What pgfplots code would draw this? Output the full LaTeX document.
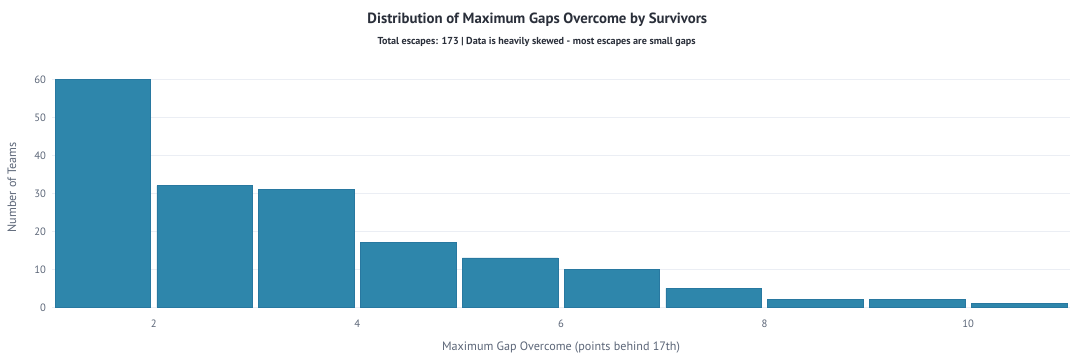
\documentclass[border=0pt]{standalone}
\usepackage{pgfplots}
\pgfplotsset{compat=1.18}
\usepackage{fontspec}
\setmainfont{PT Sans}
\definecolor{barfill}{HTML}{2E86AB}
\definecolor{baredge}{HTML}{2878A0}
\definecolor{gridc}{HTML}{EBEEF4}
\definecolor{tickc}{HTML}{5C6678}
\definecolor{titlec}{HTML}{2A2F3A}
\pgfplotstableread{
x y
1.5 60
2.5 32
3.5 31
4.5 17
5.5 13
6.5 10
7.5 5
8.5 2
9.5 2
10.5 1
}\gaps
\begin{document}
\begin{tikzpicture}
\useasboundingbox (0pt,0pt) rectangle (810pt,265.5pt);
\fill[white] (0pt,0pt) rectangle (810pt,265.5pt);
\node[font=\bfseries\fontsize{11.1}{13}\selectfont, text=titlec] at (403pt,250.5pt) {Distribution of Maximum Gaps Overcome by Survivors};
\node[font=\bfseries\fontsize{7.6}{9}\selectfont, text=titlec] at (402.5pt,234pt) {Total escapes: 173 | Data is heavily skewed - most escapes are small gaps};
\begin{axis}[
  at={(39pt,35pt)}, anchor=south west,
  scale only axis, width=763.5pt, height=180pt,
  xmin=1, xmax=11, ymin=0, ymax=63.16,
  xtick={2,4,6,8,10}, ytick={0,10,20,30,40,50,60},
  axis line style={draw=none},
  major tick style={draw=none},
  ymajorgrids, grid style={gridc, line width=0.6pt},
  tick label style={font=\fontsize{8}{10}\selectfont, text=tickc},
  /pgf/number format/assume math mode=true,
  xticklabel style={yshift=-6pt},
  yticklabel style={xshift=-1pt},
  xlabel={Maximum Gap Overcome (points behind 17th)},
  ylabel={Number of Teams},
  label style={font=\fontsize{9.1}{11}\selectfont, text=tickc},
  xlabel style={at={(axis description cs:0.5,0)}, anchor=center, yshift=-30pt},
  ylabel style={at={(axis description cs:0,0.5)}, anchor=center, yshift=30pt},
  clip=false,
]
\addplot[ybar, bar width=0.94, fill=barfill, draw=baredge, line width=0.4pt] table[x=x,y=y] {\gaps};
\end{axis}
\end{tikzpicture}
\end{document}
